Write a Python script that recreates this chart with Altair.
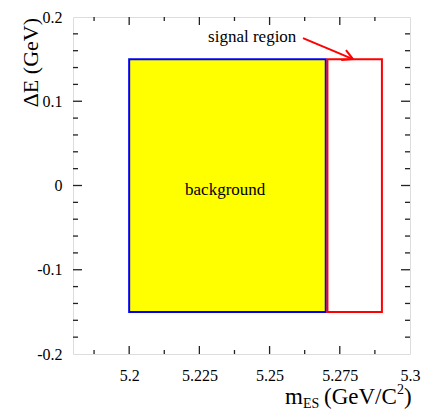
import altair as alt
import pandas as pd

# ---- data ----
x_domain = [5.18, 5.3]
y_domain = [-0.2, 0.2]
x_labels = [5.2, 5.225, 5.25, 5.275, 5.3]
y_labels = [-0.2, -0.1, 0, 0.1, 0.2]
x_major_ticks = [5.2, 5.225, 5.25, 5.275]
x_minor_ticks = [5.1875, 5.2125, 5.2375, 5.2625, 5.2875]
y_major_ticks = [-0.1, 0, 0.1]
y_minor_ticks = [-0.18, -0.16, -0.14, -0.12, -0.08, -0.06, -0.04, -0.02,
                 0.02, 0.04, 0.06, 0.08, 0.12, 0.14, 0.16, 0.18]

box_names = ["background", "signal"]
box_x1 = [5.2, 5.2706]
box_x2 = [5.27, 5.29]
box_y1 = [-0.15, -0.15]
box_y2 = [0.15, 0.15]
box_fill = ["#ffff00", "transparent"]
box_stroke = ["#0000ff", "#ff0000"]

arrow_x1 = [5.2619, 5.2772, 5.2755]
arrow_y1 = [0.175, 0.1608, 0.149]
arrow_x2 = [5.2797, 5.2797, 5.2797]
arrow_y2 = [0.150, 0.150, 0.150]

label_texts = ["signal region", "background"]
label_x = [5.2281, 5.2199]
label_y = [0.170, -0.0113]

FONT = "Liberation Serif"
W = H = 337

xs = alt.Scale(domain=x_domain, nice=False, zero=False)
ys = alt.Scale(domain=y_domain, nice=False, zero=False)

x_axis = alt.Axis(values=x_labels, labelExpr="'' + datum.value", ticks=False,
                  domain=False, grid=False, labelFont=FONT, labelFontSize=16,
                  labelColor="black", labelPadding=13, labelFlush=False,
                  labelOverlap=False, title=None)
y_axis = alt.Axis(values=y_labels, labelExpr="'' + datum.value", ticks=False,
                  domain=False, grid=False, labelFont=FONT, labelFontSize=16,
                  labelColor="black", labelPadding=11, labelFlush=False,
                  labelOverlap=False, title=None)


def X(f):
    return alt.X(f, type="quantitative", scale=xs, axis=x_axis)


def Y(f):
    return alt.Y(f, type="quantitative", scale=ys, axis=y_axis)


boxes = pd.DataFrame({"name": box_names, "x1": box_x1, "x2": box_x2,
                      "y1": box_y1, "y2": box_y2,
                      "fill": box_fill, "stroke": box_stroke})

rects = alt.Chart(boxes).mark_rect(strokeWidth=2).encode(
    x=X("x1"), x2="x2", y=Y("y1"), y2="y2",
    fill=alt.Fill("fill:N", scale=None),
    stroke=alt.Stroke("stroke:N", scale=None),
)

arrows = pd.DataFrame({"x1": arrow_x1, "y1": arrow_y1, "x2": arrow_x2, "y2": arrow_y2})
arrow = alt.Chart(arrows).mark_rule(color="#ff0000", strokeWidth=2).encode(
    x=X("x1"), y=Y("y1"), x2="x2", y2="y2")

labels = pd.DataFrame({"t": label_texts, "x": label_x, "y": label_y})
texts = alt.Chart(labels).mark_text(font=FONT, fontSize=17, align="left",
                                    baseline="alphabetic", color="black").encode(
    x=X("x"), y=Y("y"), text="t:N")

TICK = "#222222"
xmaj = pd.DataFrame({"v": x_major_ticks})
xmin = pd.DataFrame({"v": x_minor_ticks})
ymaj = pd.DataFrame({"v": y_major_ticks})
ymin = pd.DataFrame({"v": y_minor_ticks})

tick_layers = []
for df, ln in [(xmaj, 8), (xmin, 4)]:
    tick_layers.append(alt.Chart(df).mark_rule(color=TICK, strokeWidth=1.3).encode(
        x=X("v"), y=alt.value(H), y2=alt.value(H - ln)))
    tick_layers.append(alt.Chart(df).mark_rule(color=TICK, strokeWidth=1.3).encode(
        x=X("v"), y=alt.value(0), y2=alt.value(ln)))
for df, ln in [(ymaj, 9), (ymin, 5)]:
    tick_layers.append(alt.Chart(df).mark_rule(color=TICK, strokeWidth=1.3).encode(
        y=Y("v"), x=alt.value(0), x2=alt.value(ln)))
    tick_layers.append(alt.Chart(df).mark_rule(color=TICK, strokeWidth=1.3).encode(
        y=Y("v"), x=alt.value(W), x2=alt.value(W - ln)))

one = pd.DataFrame({"a": [0]})


def title_piece(txt, x, y, size, angle=0, align="left"):
    return alt.Chart(one).mark_text(text=txt, font=FONT, fontSize=size,
                                    align=align, baseline="alphabetic",
                                    angle=angle, color="black").encode(
        x=alt.value(x), y=alt.value(y))


titles = [
    title_piece("m", 212, 387, 23),
    title_piece("ES", 230, 391, 14),
    title_piece("(GeV/C", 251, 387, 23),
    title_piece("2", 324, 377, 14),
    title_piece(")", 331, 387, 23),
    title_piece("\u0394E (GeV)", -35, 1, 22, angle=270, align="right"),
]

chart = alt.layer(rects, arrow, texts, *tick_layers, *titles).properties(
    width=W, height=H,
    autosize=alt.AutoSizeParams(type="none"),
    padding={"left": 73, "top": 17, "right": 13, "bottom": 56},
).configure_view(stroke="#222222", strokeWidth=2).configure(background="white")

chart.save("out.html", embed_options={"renderer": "svg", "actions": False})
